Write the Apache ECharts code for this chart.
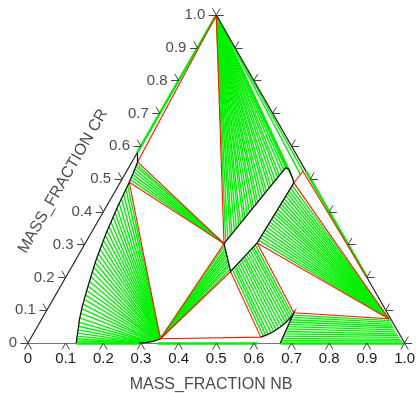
<!DOCTYPE html>
<html>
<head>
<meta charset="utf-8">
<script src="https://cdn.jsdelivr.net/npm/echarts@6/dist/echarts.min.js"></script>
<style>
  html, body { margin: 0; background: #fff; }
  #chart { width: 418px; height: 393px; }
</style>
</head>
<body>
<div id="chart"></div>
<script>
// all points are [mass fraction NB, mass fraction CR]
const tickVals = [0, 0.1, 0.2, 0.3, 0.4, 0.5, 0.6, 0.7, 0.8, 0.9, 1.0];
const leftLabels = ["0", "0.1", "0.2", "0.3", "0.4", "0.5", "0.6", "0.7", "0.8", "0.9", "1.0"];

// corners of the three-phase triangles
const vTop = [0, 1];
const vB = [0.015, 0.552];
const vC = [0.024, 0.490];
const vD = [0.369, 0.303];
const vE = [0.345, 0.013];
const vF = [0.429, 0.218];
const vH = [0.462, 0.488];
const vJ = [0.456, 0.305];
const vK = [0.921, 0.074];
const vM1 = [0.609, 0.018];
const vM2 = [0.660, 0.092];
const vR2 = [0.468, 0.524];
const vQ = [0.798, 0.202];

// tie lines from the Cr corner
const fanTopEnds = [
  [0.370, 0.310], [0.372, 0.317], [0.374, 0.326], [0.375, 0.333], [0.377, 0.342],
  [0.379, 0.349], [0.381, 0.358], [0.382, 0.365], [0.384, 0.375], [0.385, 0.382],
  [0.387, 0.391], [0.389, 0.398], [0.391, 0.407], [0.392, 0.414], [0.394, 0.423],
  [0.395, 0.430], [0.397, 0.439], [0.399, 0.446], [0.401, 0.455], [0.402, 0.462],
  [0.404, 0.472], [0.405, 0.479], [0.407, 0.488], [0.409, 0.495], [0.411, 0.504],
  [0.412, 0.511], [0.414, 0.520], [0.416, 0.527], [0.417, 0.534], [0.424, 0.530],
  [0.431, 0.525], [0.438, 0.518], [0.446, 0.509], [0.454, 0.499], [0.468, 0.512],
  [0.472, 0.520]
];

// tie lines: left boundary -> bottom
const fan1Left = [
  [0.126, 0.006], [0.123, 0.013], [0.120, 0.021], [0.117, 0.030], [0.113, 0.040],
  [0.109, 0.051], [0.104, 0.063], [0.100, 0.076], [0.096, 0.090], [0.092, 0.104],
  [0.088, 0.118], [0.084, 0.132], [0.080, 0.146], [0.076, 0.160], [0.072, 0.174],
  [0.069, 0.188], [0.066, 0.202], [0.063, 0.216], [0.060, 0.230], [0.057, 0.244],
  [0.054, 0.258], [0.051, 0.272], [0.048, 0.286], [0.046, 0.300], [0.043, 0.314],
  [0.041, 0.328], [0.039, 0.342], [0.037, 0.356], [0.035, 0.370], [0.034, 0.384],
  [0.032, 0.398], [0.030, 0.412], [0.029, 0.426], [0.028, 0.440], [0.027, 0.454],
  [0.026, 0.468], [0.025, 0.480]
];
const fan1Bottom = [
  [0.298, 0.000], [0.302, 0.000], [0.306, 0.001], [0.310, 0.001], [0.314, 0.002],
  [0.318, 0.002], [0.321, 0.003], [0.324, 0.003], [0.327, 0.004], [0.330, 0.005],
  [0.332, 0.005], [0.334, 0.006], [0.336, 0.007], [0.338, 0.008], [0.339, 0.008],
  [0.340, 0.009], [0.341, 0.010], [0.342, 0.010], [0.343, 0.011], [0.343, 0.011],
  [0.344, 0.012], [0.344, 0.012], [0.345, 0.013], [0.345, 0.013], [0.345, 0.013],
  [0.345, 0.013], [0.345, 0.013], [0.345, 0.013], [0.345, 0.013], [0.345, 0.013],
  [0.345, 0.013], [0.345, 0.013], [0.345, 0.013], [0.345, 0.013], [0.345, 0.013],
  [0.345, 0.013], [0.345, 0.013]
];

// tie lines: left boundary -> D
const fan2Ends = [
  [0.023, 0.498], [0.022, 0.506], [0.021, 0.514], [0.020, 0.522],
  [0.019, 0.530], [0.018, 0.538], [0.016, 0.545]
];

// tie lines: E -> lower end of the band
const fan3Ends = [
  [0.374, 0.295], [0.380, 0.288], [0.385, 0.280], [0.391, 0.272], [0.396, 0.265],
  [0.402, 0.256], [0.407, 0.249], [0.413, 0.241], [0.418, 0.233], [0.424, 0.225]
];

// tie lines: band -> mu boundary
const fan4Band = [
  [0.431, 0.224], [0.433, 0.230], [0.434, 0.235], [0.436, 0.241], [0.438, 0.247],
  [0.440, 0.253], [0.442, 0.259], [0.443, 0.264], [0.445, 0.270], [0.447, 0.276],
  [0.449, 0.282], [0.451, 0.288], [0.452, 0.293], [0.454, 0.299]
];
const fan4Mu = [
  [0.614, 0.021], [0.619, 0.024], [0.624, 0.027], [0.630, 0.031], [0.635, 0.035],
  [0.639, 0.040], [0.643, 0.045], [0.646, 0.051], [0.650, 0.056], [0.653, 0.062],
  [0.655, 0.068], [0.657, 0.074], [0.658, 0.080], [0.659, 0.086]
];

// tie lines: K -> band
const fan5Ends = [
  [0.462, 0.480], [0.461, 0.472], [0.461, 0.464], [0.461, 0.456], [0.461, 0.448],
  [0.460, 0.440], [0.460, 0.432], [0.460, 0.424], [0.460, 0.416], [0.459, 0.408],
  [0.459, 0.400], [0.459, 0.393], [0.459, 0.385], [0.458, 0.377], [0.458, 0.369],
  [0.458, 0.361], [0.458, 0.353], [0.457, 0.345], [0.457, 0.337], [0.457, 0.329],
  [0.456, 0.321], [0.456, 0.313]
];

// tie lines: mu boundary -> Cr-Nb edge
const fan6Left = [
  [0.661, 0.085], [0.662, 0.078], [0.662, 0.071], [0.663, 0.064], [0.664, 0.057],
  [0.665, 0.050], [0.665, 0.043], [0.666, 0.035], [0.667, 0.028], [0.668, 0.021],
  [0.668, 0.014], [0.669, 0.007]
];
const fan6Right = [
  [0.928, 0.068], [0.933, 0.063], [0.938, 0.057], [0.943, 0.051], [0.949, 0.046],
  [0.954, 0.040], [0.959, 0.034], [0.965, 0.028], [0.971, 0.023], [0.977, 0.017],
  [0.983, 0.011], [0.990, 0.006]
];

// phase boundaries
const leftBoundary = [
  [0.128, 0], [0.115, 0.035], [0.101, 0.071], [0.089, 0.110], [0.078, 0.152],
  [0.066, 0.202], [0.054, 0.254], [0.047, 0.295], [0.040, 0.335], [0.035, 0.376],
  [0.030, 0.417], [0.027, 0.453], [0.024, 0.490], [0.020, 0.520], [0.015, 0.552],
  [0, 0.581]
];
const bandOutline = [
  [0.369, 0.303], [0.417, 0.534], [0.428, 0.530], [0.438, 0.518], [0.452, 0.502],
  [0.462, 0.488], [0.456, 0.305], [0.429, 0.218], [0.369, 0.303]
];
const muCurve = [
  [0.609, 0.018], [0.622, 0.025], [0.635, 0.035], [0.645, 0.048], [0.653, 0.062],
  [0.658, 0.077], [0.660, 0.092], [0.670, 0]
];
const bottomBump = [[0.296, 0], [0.315, 0.002], [0.330, 0.005], [0.345, 0.013]];

const greenEdges = [
  [[0, 0.581], [0, 1]],
  [[0.476, 0.524], [0.798, 0.202]],
  [[0.128, 0], [0.296, 0]],
  [[0.345, 0], [0.609, 0]],
  [[0.670, 0], [1, 0]]
];
const blackEdges = [
  [[0, 0], [0, 0.581]],
  [[0, 1], [0.476, 0.524]],
  [[0.798, 0.202], [1, 0]]
];

const tern = (p) => [p[0] + p[1] / 2, p[1]];
const seg = (a, b) => ({ coords: [tern(a), tern(b)] });
const path = (pts) => ({ coords: pts.map(tern) });

const GREEN = "#00f000";
const RED = "#ff1a00";
const FONT = "'Liberation Sans', Arial, sans-serif";

function lines(data, color, width, z, polyline) {
  return {
    type: "lines",
    coordinateSystem: "cartesian2d",
    polyline: !!polyline,
    clip: false,
    silent: true,
    z: z,
    lineStyle: { color: color, width: width, opacity: 1, curveness: 0 },
    data: data,
  };
}

const tieLines = [
  ...fanTopEnds.map((p) => seg(vTop, p)),
  ...fan1Left.map((p, i) => seg(p, fan1Bottom[i])),
  ...fan2Ends.map((p) => seg(vD, p)),
  ...fan3Ends.map((p) => seg(vE, p)),
  ...fan4Band.map((p, i) => seg(p, fan4Mu[i])),
  ...fan5Ends.map((p) => seg(vK, p)),
  ...fan6Left.map((p, i) => seg(p, fan6Right[i])),
];

const redLines = [
  path([vTop, vD, vB, vTop]),
  path([vC, vD, vE, vC]),
  path([vE, vF, vM1, vE]),
  path([vJ, vM2, vK, vJ]),
  path([vK, vH, vR2, vQ]),
];

const d = 0.02;
const ticks = [];
tickVals.forEach((t) => {
  ticks.push(seg([t, 0], [t, -d]), seg([t, 0], [t + d, -d]));
  ticks.push(seg([0, t], [-d, t]), seg([0, t], [-d, t + d]));
  ticks.push(seg([1 - t, t], [1 - t + d, t]), seg([1 - t, t], [1 - t, t + d]));
});

const chart = echarts.init(document.getElementById("chart"), null, { renderer: "canvas" });

chart.setOption({
  animation: false,
  backgroundColor: "#fff",
  grid: { left: 28, right: 12, top: 15, bottom: 50 },
  xAxis: {
    type: "value",
    min: 0,
    max: 1,
    interval: 0.1,
    axisLine: { show: false },
    axisTick: { show: false },
    splitLine: { show: false },
    axisLabel: {
      margin: 8,
      fontSize: 15,
      fontFamily: FONT,
      color: "#1a1a1a",
      showMinLabel: true,
      showMaxLabel: true,
      formatter: (v) => (v === 0 ? "0" : v.toFixed(1)),
    },
  },
  yAxis: { type: "value", min: 0, max: 1, show: false },
  series: [
    lines(tieLines, GREEN, 1.35, 2, false),
    lines(greenEdges.map((e) => seg(e[0], e[1])), GREEN, 2.5, 3, false),
    lines(redLines, RED, 1.1, 4, true),
    lines([path(leftBoundary), path(bandOutline), path(muCurve), path(bottomBump)], "#111", 1.3, 5, true),
    lines([seg([0, 0], [1, 0])], "#777", 1, 1, false),
    lines(blackEdges.map((e) => seg(e[0], e[1])), "#222", 1.2, 5, false),
    lines(ticks, "#444", 1, 6, false),
    {
      type: "scatter",
      clip: false,
      silent: true,
      symbolSize: 0,
      data: tickVals.map((c) => tern([0, c])),
      label: {
        show: true,
        position: "left",
        distance: 11,
        fontSize: 15,
        fontFamily: FONT,
        color: "#1a1a1a",
        formatter: (p) => leftLabels[p.dataIndex],
      },
    },
    {
      type: "scatter",
      clip: false,
      silent: true,
      symbolSize: 0,
      data: [[0.486, -0.127]],
      label: {
        show: true,
        position: "inside",
        fontSize: 16,
        fontFamily: FONT,
        color: "#1a1a1a",
        formatter: "MASS_FRACTION NB",
      },
    },
    {
      type: "scatter",
      clip: false,
      silent: true,
      symbolSize: 0,
      data: [[0.093, 0.493]],
      label: {
        show: true,
        position: "inside",
        rotate: 60,
        fontSize: 16,
        fontFamily: FONT,
        color: "#1a1a1a",
        formatter: "MASS_FRACTION CR",
      },
    },
  ],
});
</script>
</body>
</html>
